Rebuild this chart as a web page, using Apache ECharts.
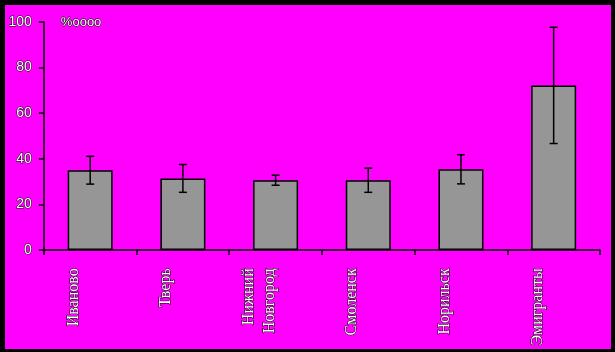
<!DOCTYPE html>
<html>
<head>
<meta charset="utf-8">
<script src="https://cdn.jsdelivr.net/npm/echarts@6/dist/echarts.min.js"></script>
<style>
    html, body {margin: 0; padding: 0; background: #000; width: 615px; height: 352px; overflow: hidden;}
    #chart {position: absolute; left: 5px; top: 5px; width: 606px; height: 344px; background: #ff00ff;}
</style>
</head>
<body>
<div id="chart"></div>
<script>
var cities = ['Иваново', 'Тверь', 'Нижний\nНовгород', 'Смоленск', 'Норильск', 'Эмигранты'];
var rates = [35.0, 31.4, 30.6, 30.6, 35.4, 72.2];
var errors = [6.1, 6.1, 2.2, 5.3, 6.4, 25.5];
var y_ticks = [0, 20, 40, 60, 80, 100];

var err_data = rates.map((v, i) => [i, v - errors[i], v + errors[i]]);

function draw_err(params, api) {
    var lo = api.coord([api.value(0), api.value(1)]);
    var hi = api.coord([api.value(0), api.value(2)]);
    var cap = 4;
    var style = {stroke: '#000', lineWidth: 1.5};
    return {
        type: 'group',
        children: [
            {type: 'line', shape: {x1: hi[0], y1: hi[1], x2: lo[0], y2: lo[1]}, style: style},
            {type: 'line', shape: {x1: hi[0] - cap, y1: hi[1], x2: hi[0] + cap, y2: hi[1]}, style: style},
            {type: 'line', shape: {x1: lo[0] - cap, y1: lo[1], x2: lo[0] + cap, y2: lo[1]}, style: style},
        ]
    };
}

var label_style = {color: '#fff', textBorderColor: '#000', textBorderWidth: 1};

var chart = echarts.init(document.getElementById('chart'));
chart.setOption({
    animation: false,
    backgroundColor: '#ff00ff',
    grid: [
        {left: 38, top: 17, right: 11, bottom: 99, containLabel: false},
        // labels sit a bit left of the bar centres in the original
        {left: 22, top: 17, right: 27, bottom: 99, containLabel: false},
    ],
    xAxis: [
        {
            type: 'category',
            data: cities,
            axisLine: {lineStyle: {color: '#000', width: 1.5}},
            axisTick: {show: true, length: 5, lineStyle: {color: '#000', width: 1.5}},
            axisLabel: {show: false},
        },
        {
            type: 'category',
            gridIndex: 1,
            data: cities,
            axisLine: {show: false},
            axisTick: {show: false},
            axisLabel: Object.assign({
                rotate: 90, interval: 0, margin: 27,
                fontFamily: 'Liberation Serif', fontSize: 16, lineHeight: 21,
            }, label_style),
        },
    ],
    yAxis: [
        {
            type: 'value', min: 0, max: 100, interval: 20,
            name: '%oooo', nameLocation: 'end', nameGap: 0,
            nameTextStyle: Object.assign({
                fontFamily: 'Liberation Sans', fontSize: 13,
                align: 'left', verticalAlign: 'middle', padding: [0, 0, 0, 17],
            }, label_style),
            axisLine: {show: true, lineStyle: {color: '#000', width: 1.5}},
            axisTick: {show: true, inside: false, length: 5, lineStyle: {color: '#000', width: 1.5}},
            axisLabel: Object.assign({
                margin: 12, fontFamily: 'Liberation Sans', fontSize: 14,
                formatter: v => y_ticks.includes(v) ? String(v) : '',
            }, label_style),
            splitLine: {show: false},
        },
        {
            type: 'value', gridIndex: 1, min: 0, max: 100, show: false,
        },
    ],
    series: [
        {
            type: 'bar', data: rates, barWidth: 45,
            itemStyle: {color: '#969696', borderColor: '#000', borderWidth: 1.5},
        },
        {
            type: 'custom', data: err_data, renderItem: draw_err, z: 5,
            encode: {x: 0, y: [1, 2]},
        },
    ],
});
</script>
</body>
</html>
